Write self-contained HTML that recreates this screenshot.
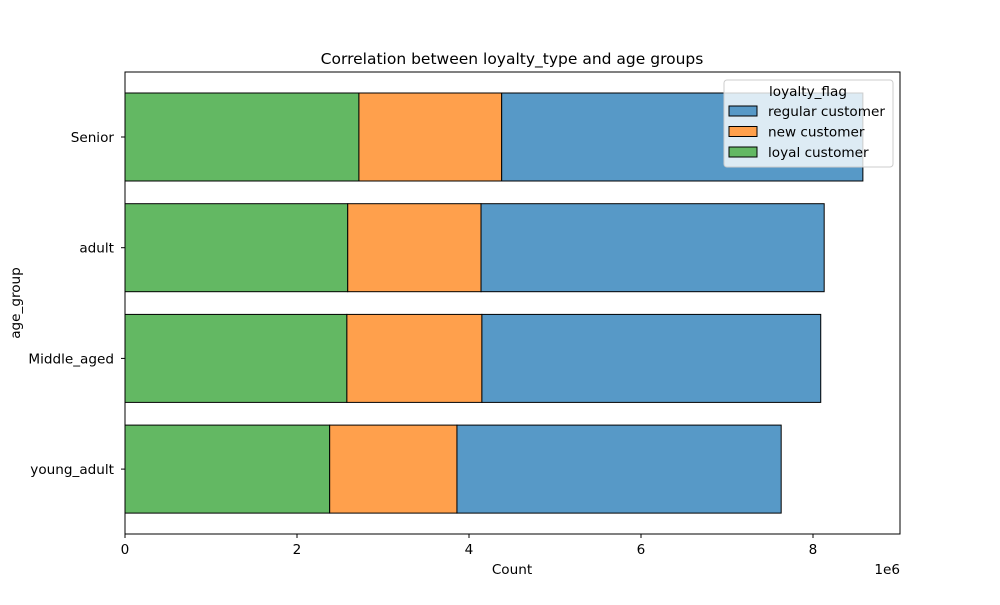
<!DOCTYPE html>
<html><head><meta charset="utf-8"><style>
body{margin:0;background:#fff;font-family:"Liberation Sans","DejaVu Sans",sans-serif}
svg text{font-family:"DejaVu Sans","Liberation Sans",sans-serif;font-size:13.6px;fill:#000}
</style></head><body>
<svg id="chart" width="1000" height="600"></svg>
<script>
const categories=["Senior","adult","Middle_aged","young_adult"];
const loyal=[2.72,2.59,2.58,2.38];
const newer=[1.66,1.55,1.57,1.48];
const regular=[4.20,3.99,3.94,3.77];
const xTicks=[0,2,4,6,8];
const seriesNames=["regular customer","new customer","loyal customer"];
const NS="http://www.w3.org/2000/svg";
const svg=document.getElementById('chart');
const L=125,R=900,T=72,B=534;
const x=v=>L+v*86;
const step=110.7, y0=137;
const yc=i=>y0+i*step;
function mk(t,a,p){const e=document.createElementNS(NS,t);for(const k in a)e.setAttribute(k,a[k]);(p||svg).appendChild(e);return e;}
const title=mk('text',{x:512,y:64,'text-anchor':'middle',style:'font-size:15.5px'});title.textContent="Correlation between loyalty_type and age groups";


const cols={loyal:"#63b863",newer:"#ffa04c",regular:"#5799c7"};
categories.forEach((c,i)=>{
  let acc=0;
  [["loyal",loyal],["newer",newer],["regular",regular]].forEach(([k,arr])=>{
    const r=mk('rect',{x:x(acc),y:yc(i)-44,width:x(acc+arr[i])-x(acc),height:88,fill:cols[k],stroke:'#000','stroke-width':1});
    
    
    acc+=arr[i];
  });
  mk('line',{x1:L-4,x2:L,y1:yc(i),y2:yc(i),stroke:'#000'});
  const t=mk('text',{x:L-11,y:yc(i)+5,'text-anchor':'end'});t.textContent=c;
  
  
});
const ax=mk('rect',{x:L,y:T,width:R-L,height:B-T,fill:'none',stroke:'#000','stroke-width':1});


xTicks.forEach(v=>{
  mk('line',{x1:x(v),x2:x(v),y1:B,y2:B+4,stroke:'#000'});
  const t=mk('text',{x:x(v),y:B+20,'text-anchor':'middle'});t.textContent=v;
  
  
});
const ex=mk('text',{x:900,y:574,'text-anchor':'end'});ex.textContent="1e6";


const xt=mk('text',{x:512,y:574,'text-anchor':'middle'});xt.textContent="Count";


const yt=mk('text',{x:20,y:303,'text-anchor':'middle',transform:'rotate(-90 20 303)'});yt.textContent="age_group";


const lg=mk('g',{});


mk('rect',{x:724,y:80,width:169,height:87,rx:3,fill:'#fff','fill-opacity':0.8,stroke:'#ccc'},lg);
const lt=mk('text',{x:808,y:96,'text-anchor':'middle'},lg);lt.textContent="loyalty_flag";
const lcols=[cols.regular,cols.newer,cols.loyal];
seriesNames.forEach((n,i)=>{
  const g=mk('g',{},lg);
  
  
  mk('rect',{x:729,y:106+i*20.5,width:28,height:10,fill:lcols[i],stroke:'#000'},g);
  const t=mk('text',{x:768,y:116+i*20.5},g);t.textContent=n;
});
</script>
</body></html>
